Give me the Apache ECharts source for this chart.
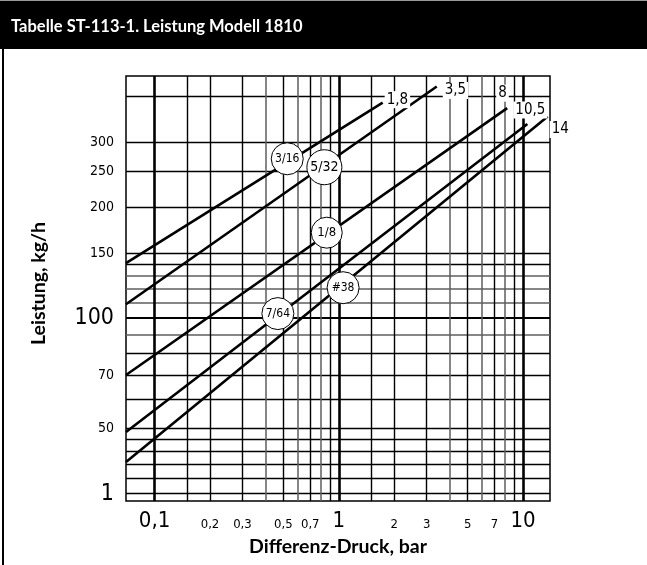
<!DOCTYPE html>
<html>
<head>
<meta charset="utf-8">
<script src="https://cdn.jsdelivr.net/npm/echarts@6/dist/echarts.min.js"></script>
<style>
  html, body { margin: 0; padding: 0; background: #fff; }
  #chart { width: 647px; height: 565px; }
</style>
</head>
<body>
<div id="chart"></div>
<script>
// Leistungskurven (log-log)
const lineNames = ['3/16', '5/32', '1/8', '7/64', '#38']
const endLabels = ['1,8', '3,5', '8', '10,5', '14']
const druckStart = [0.07, 0.07, 0.07, 0.07, 0.07]
const leistungStart = [141, 109, 70, 49, 40.6]
const druckEnd = [1.73, 3.4, 8.2, 10.55, 13.6]
const leistungEnd = [385, 426, 372, 337, 353]
const badgeDruck = [0.525, 0.835, 0.86, 0.467, 1.055]
const badgeLeistung = [271, 257, 170.6, 102.8, 120.9]

// Achsen / Raster
const xLabelValues = [0.1, 0.2, 0.3, 0.5, 0.7, 1, 2, 3, 5, 7, 10]
const xLabelTexts = ['0,1', '0,2', '0,3', '0,5', '0,7', '1', '2', '3', '5', '7', '10']
const xBigLabels = ['0,1', '1', '10']
const xMajor = [0.1, 1, 10]
const xMinorDark = [0.15, 0.2, 0.3, 0.5, 0.7, 0.9, 1.5, 2, 3, 5, 7, 9]
const xMinorGray = [0.4, 0.6, 0.8, 4, 6, 8]
const yLabelValues = [33.3, 50, 70, 100, 150, 200, 250, 300]
const yLabelTexts = ['1', '50', '70', '100', '150', '200', '250', '300']
const yBigLabels = ['1', '100']
const yMajor = [100]
const yMinorDark = [33.3, 36.7, 40, 43.3, 46.7, 50, 60, 70, 80, 140, 150, 200, 250, 300, 400]
const yMinorGray = [90, 110, 120, 130]

const NARROW = "'Liberation Sans Narrow', 'Arial Narrow', 'DejaVu Sans Condensed', sans-serif"
const BOLD = "Lato, 'Open Sans', sans-serif"

// label position tweaks around the line ends
const endOffsets = [[2, -3], [6, 4], [-11, -15], [-14, -14], [2, 13]]
const badgeLook = { '5/32': { size: 35, font: 14 }, '1/8': { size: 31, font: 13 } }

function pickText(values, texts, v) {
  let best = 0
  values.forEach((val, i) => {
    if (Math.abs(Math.log(val) - Math.log(v)) < Math.abs(Math.log(values[best]) - Math.log(v))) best = i
  })
  return texts[best]
}

function gridAxis(values, color, width, extra) {
  return Object.assign({
    type: 'log',
    axisLine: { show: false },
    axisLabel: { show: false },
    axisTick: { show: false, customValues: values },
    splitLine: { show: true, lineStyle: { color: color, width: width } }
  }, extra)
}

const chart = echarts.init(document.getElementById('chart'))

const xRange = { min: 0.07, max: 14 }
const yRange = { min: 31.8, max: 455 }

chart.setOption({
  animation: false,
  graphic: [
    { type: 'rect', left: 0, top: 0, shape: { width: 647, height: 1 }, style: { fill: '#999' } },
    { type: 'rect', left: 0, top: 1, shape: { width: 647, height: 48 }, style: { fill: '#000' } },
    { type: 'rect', left: 2, top: 49, shape: { width: 2, height: 516 }, style: { fill: '#000' } }
  ],
  title: {
    text: 'Tabelle ST-113-1. Leistung Modell 1810',
    left: 6,
    top: 13,
    textStyle: { color: '#fff', fontSize: 16.5, fontWeight: 'bold', fontFamily: BOLD }
  },
  grid: {
    left: 126,
    right: 97,
    top: 76,
    bottom: 64,
    show: true,
    borderColor: '#000',
    borderWidth: 1.5
  },
  xAxis: [
    Object.assign({
      type: 'log',
      name: 'Differenz-Druck, bar',
      nameLocation: 'middle',
      nameGap: 36,
      nameTextStyle: { color: '#000', fontSize: 19.5, fontWeight: 'bold', fontFamily: BOLD },
      axisLine: { show: false },
      axisTick: { show: false, customValues: xMinorDark },
      splitLine: { show: true, lineStyle: { color: '#000', width: 1.4 } },
      axisLabel: {
        customValues: xLabelValues,
        margin: 9,
        color: '#000',
        fontFamily: NARROW,
        formatter: v => {
          const t = pickText(xLabelValues, xLabelTexts, v)
          return xBigLabels.includes(t) ? '{big|' + t + '}' : '{small|' + t + '}'
        },
        rich: {
          big: { fontSize: 22, fontFamily: NARROW, color: '#000' },
          small: { fontSize: 13, fontFamily: NARROW, color: '#000', padding: [8, 0, 0, 0] }
        }
      }
    }, xRange),
    gridAxis(xMinorGray, '#5e5e5e', 1.5, xRange),
    gridAxis(xMajor, '#000', 2.6, xRange)
  ],
  yAxis: [
    Object.assign({
      type: 'log',
      name: 'Leistung, kg/h',
      nameLocation: 'middle',
      nameGap: 77,
      nameTextStyle: { color: '#000', fontSize: 19.5, fontWeight: 'bold', fontFamily: BOLD, padding: [0, 0, 0, 10] },
      axisLine: { show: false },
      axisTick: { show: false, customValues: yMinorDark },
      splitLine: { show: true, lineStyle: { color: '#000', width: 1.4 } },
      axisLabel: {
        customValues: yLabelValues,
        margin: 12,
        color: '#000',
        fontFamily: NARROW,
        formatter: v => {
          const t = pickText(yLabelValues, yLabelTexts, v)
          return yBigLabels.includes(t) ? '{big|' + t + '}' : '{small|' + t + '}'
        },
        rich: {
          big: { fontSize: 23, fontFamily: NARROW, color: '#000' },
          small: { fontSize: 14, fontFamily: NARROW, color: '#000' }
        }
      }
    }, yRange),
    gridAxis(yMinorGray, '#5e5e5e', 1.5, yRange),
    gridAxis(yMajor, '#000', 2, yRange)
  ],
  series: lineNames.map((name, i) => ({
    name: name,
    type: 'line',
    xAxisIndex: 0,
    yAxisIndex: 0,
    symbol: 'none',
    silent: true,
    z: 3,
    data: [[druckStart[i], leistungStart[i]], [druckEnd[i], leistungEnd[i]]],
    lineStyle: { color: '#000', width: 2.6 },
    endLabel: {
      show: true,
      formatter: endLabels[i],
      distance: 0,
      offset: endOffsets[i],
      color: '#000',
      fontSize: 15,
      fontFamily: NARROW,
      backgroundColor: '#fff',
      padding: [1, 2]
    },
    markPoint: {
      symbol: 'circle',
      symbolSize: (badgeLook[name] || {}).size || 32,
      z: 6,
      itemStyle: { color: '#fff', borderColor: '#000', borderWidth: 1 },
      label: {
        show: true,
        color: '#000',
        fontSize: (badgeLook[name] || {}).font || 12,
        fontFamily: NARROW,
        formatter: () => name
      },
      data: [{ coord: [badgeDruck[i], badgeLeistung[i]] }]
    }
  }))
})
</script>
</body>
</html>
